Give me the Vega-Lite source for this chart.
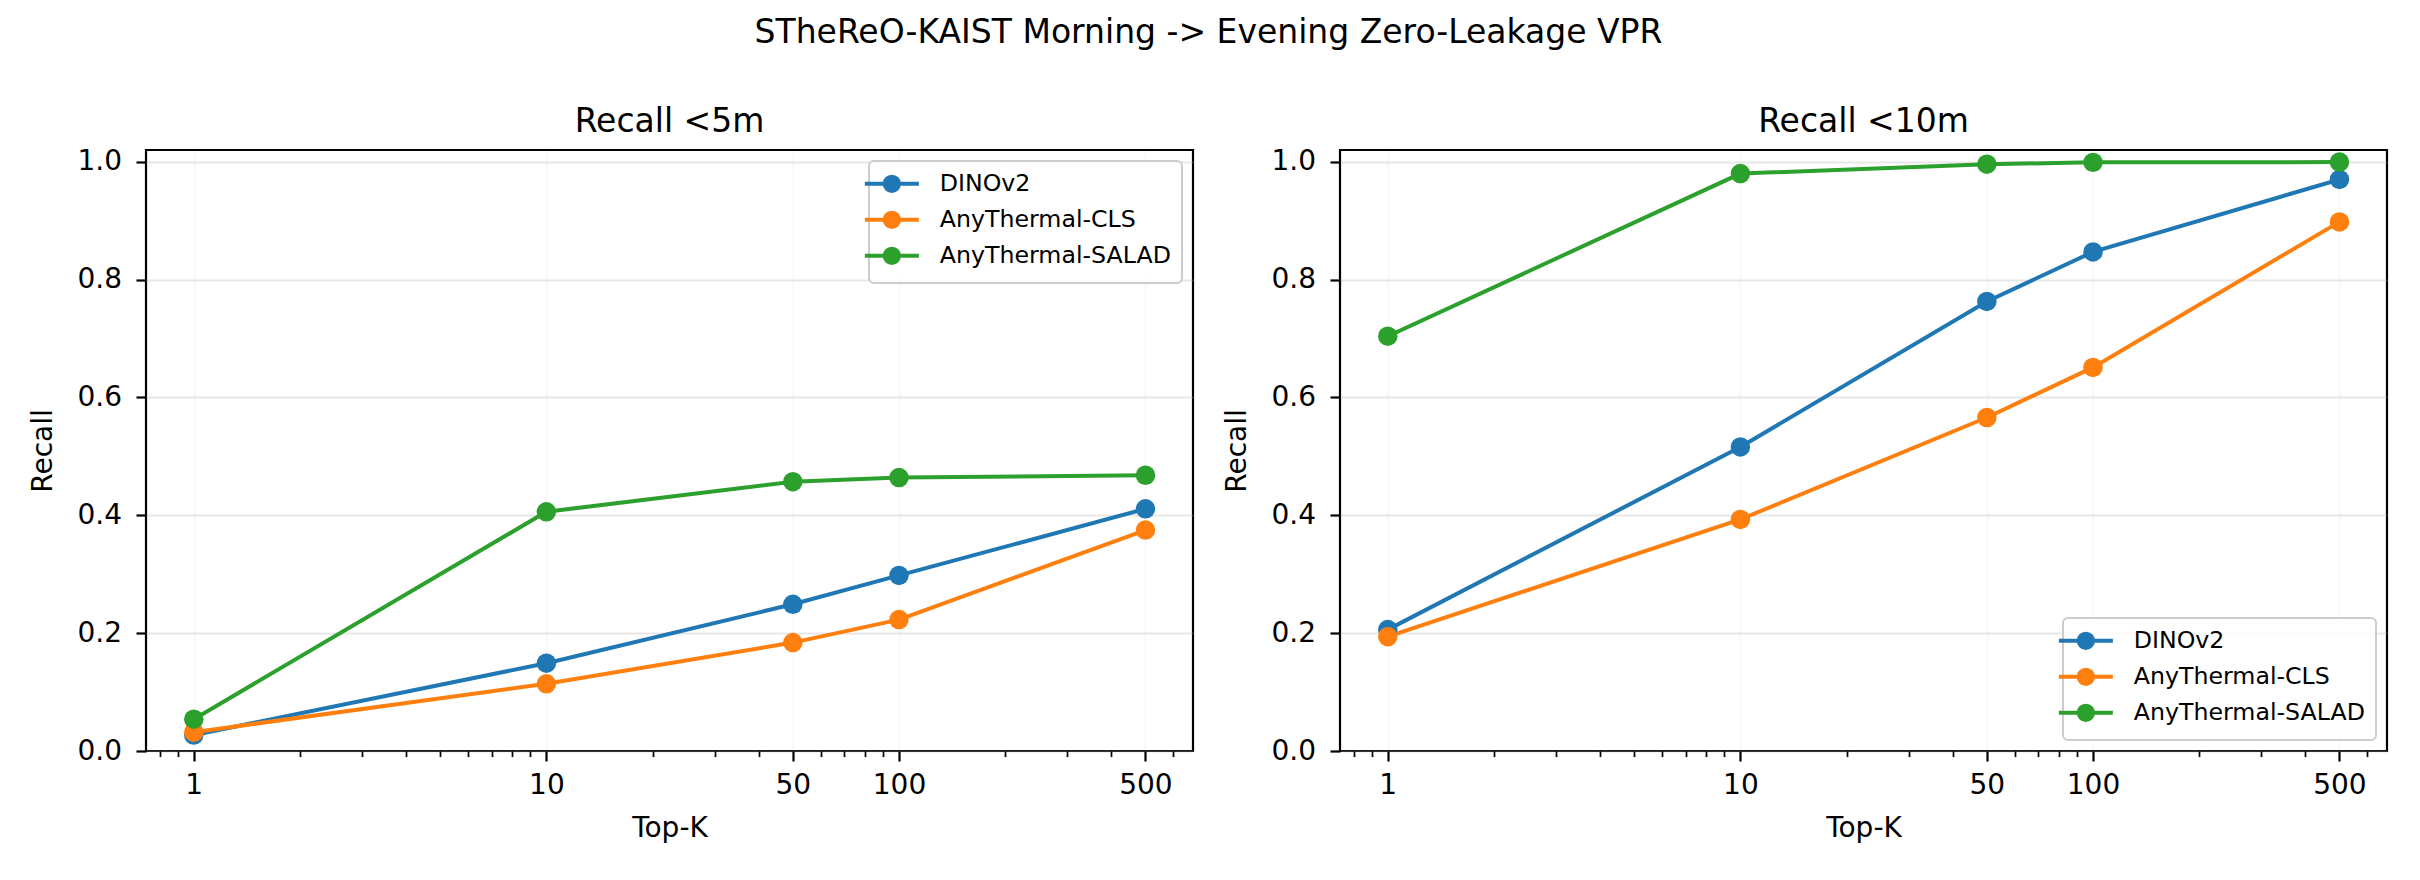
{
  "$schema": "https://vega.github.io/schema/vega-lite/v6.json",
  "padding": {"left": 28, "top": 16, "right": 0, "bottom": 0},
  "background": "white",
  "title": {"text": "STheReO-KAIST Morning -> Evening Zero-Leakage VPR", "fontSize": 33, "font": "DejaVu Sans", "fontWeight": "normal", "color": "black", "anchor": "middle", "offset": 55},
  "datasets": {
    "r5": [
      {"k": 1, "recall": 0.027, "method": "DINOv2"},
      {"k": 10, "recall": 0.149, "method": "DINOv2"},
      {"k": 50, "recall": 0.249, "method": "DINOv2"},
      {"k": 100, "recall": 0.298, "method": "DINOv2"},
      {"k": 500, "recall": 0.411, "method": "DINOv2"},
      {"k": 1, "recall": 0.032, "method": "AnyThermal-CLS"},
      {"k": 10, "recall": 0.114, "method": "AnyThermal-CLS"},
      {"k": 50, "recall": 0.184, "method": "AnyThermal-CLS"},
      {"k": 100, "recall": 0.223, "method": "AnyThermal-CLS"},
      {"k": 500, "recall": 0.375, "method": "AnyThermal-CLS"},
      {"k": 1, "recall": 0.054, "method": "AnyThermal-SALAD"},
      {"k": 10, "recall": 0.406, "method": "AnyThermal-SALAD"},
      {"k": 50, "recall": 0.457, "method": "AnyThermal-SALAD"},
      {"k": 100, "recall": 0.464, "method": "AnyThermal-SALAD"},
      {"k": 500, "recall": 0.468, "method": "AnyThermal-SALAD"}
    ],
    "r10": [
      {"k": 1, "recall": 0.206, "method": "DINOv2"},
      {"k": 10, "recall": 0.516, "method": "DINOv2"},
      {"k": 50, "recall": 0.763, "method": "DINOv2"},
      {"k": 100, "recall": 0.847, "method": "DINOv2"},
      {"k": 500, "recall": 0.970, "method": "DINOv2"},
      {"k": 1, "recall": 0.194, "method": "AnyThermal-CLS"},
      {"k": 10, "recall": 0.393, "method": "AnyThermal-CLS"},
      {"k": 50, "recall": 0.566, "method": "AnyThermal-CLS"},
      {"k": 100, "recall": 0.651, "method": "AnyThermal-CLS"},
      {"k": 500, "recall": 0.898, "method": "AnyThermal-CLS"},
      {"k": 1, "recall": 0.704, "method": "AnyThermal-SALAD"},
      {"k": 10, "recall": 0.980, "method": "AnyThermal-SALAD"},
      {"k": 50, "recall": 0.996, "method": "AnyThermal-SALAD"},
      {"k": 100, "recall": 0.999, "method": "AnyThermal-SALAD"},
      {"k": 500, "recall": 0.9995, "method": "AnyThermal-SALAD"}
    ]
  },
  "spacing": 27,
  "resolve": {"legend": {"color": "independent"}},
  "hconcat": [
    {
      "width": 1047, "height": 601,
      "title": "Recall <5m",
      "data": {"name": "r5"},
      "encoding": {
        "x": {"field": "k", "type": "quantitative", "title": "Top-K",
          "scale": {"type": "log", "domain": [0.732, 682], "nice": false, "zero": false},
          "axis": {"values": [0.8, 0.9, 1, 2, 3, 4, 5, 6, 7, 8, 9, 10, 20, 30, 40, 50, 60, 70, 80, 90, 100, 200, 300, 400, 500, 600],
            "labelExpr": "indexof([1,10,50,100,500], datum.value) >= 0 ? format(datum.value, 'd') : ''",
            "tickSize": {"condition": {"test": "indexof([1,10,50,100,500], datum.value) >= 0", "value": 10}, "value": 5.6},
            "tickWidth": {"condition": {"test": "indexof([1,10,50,100,500], datum.value) >= 0", "value": 2.2}, "value": 1.7},
            "gridOpacity": {"condition": {"test": "indexof([1,10,50,100,500], datum.value) >= 0", "value": 0.3}, "value": 0}}},
        "y": {"field": "recall", "type": "quantitative", "title": "Recall",
          "scale": {"domain": [0, 1.02], "nice": false},
          "axis": {"values": [0, 0.2, 0.4, 0.6, 0.8, 1.0], "format": ".1f"}},
        "color": {"field": "method", "type": "nominal",
          "scale": {"domain": ["DINOv2", "AnyThermal-CLS", "AnyThermal-SALAD"], "range": ["#1f77b4", "#ff7f0e", "#2ca02c"]},
          "legend": {"orient": "top-right", "offset": 11,
            "encode": {"symbols": {"update": {"stroke": {"scale": "color", "field": "value"}, "fill": {"scale": "color", "field": "value"}, "opacity": {"value": 1}, "strokeWidth": {"value": 4}}}}}}
      },
      "layer": [
        {"mark": {"type": "line", "strokeWidth": 4}},
        {"mark": {"type": "point", "filled": true, "size": 380, "opacity": 1, "strokeWidth": 0}}
      ]
    },
    {
      "width": 1047, "height": 601,
      "title": "Recall <10m",
      "data": {"name": "r10"},
      "encoding": {
        "x": {"field": "k", "type": "quantitative", "title": "Top-K",
          "scale": {"type": "log", "domain": [0.732, 682], "nice": false, "zero": false},
          "axis": {"values": [0.8, 0.9, 1, 2, 3, 4, 5, 6, 7, 8, 9, 10, 20, 30, 40, 50, 60, 70, 80, 90, 100, 200, 300, 400, 500, 600],
            "labelExpr": "indexof([1,10,50,100,500], datum.value) >= 0 ? format(datum.value, 'd') : ''",
            "tickSize": {"condition": {"test": "indexof([1,10,50,100,500], datum.value) >= 0", "value": 10}, "value": 5.6},
            "tickWidth": {"condition": {"test": "indexof([1,10,50,100,500], datum.value) >= 0", "value": 2.2}, "value": 1.7},
            "gridOpacity": {"condition": {"test": "indexof([1,10,50,100,500], datum.value) >= 0", "value": 0.3}, "value": 0}}},
        "y": {"field": "recall", "type": "quantitative", "title": "Recall",
          "scale": {"domain": [0, 1.02], "nice": false},
          "axis": {"values": [0, 0.2, 0.4, 0.6, 0.8, 1.0], "format": ".1f"}},
        "color": {"field": "method", "type": "nominal",
          "scale": {"domain": ["DINOv2", "AnyThermal-CLS", "AnyThermal-SALAD"], "range": ["#1f77b4", "#ff7f0e", "#2ca02c"]},
          "legend": {"orient": "bottom-right", "offset": 11,
            "encode": {"symbols": {"update": {"stroke": {"scale": "color", "field": "value"}, "fill": {"scale": "color", "field": "value"}, "opacity": {"value": 1}, "strokeWidth": {"value": 4}}}}}}
      },
      "layer": [
        {"mark": {"type": "line", "strokeWidth": 4}},
        {"mark": {"type": "point", "filled": true, "size": 380, "opacity": 1, "strokeWidth": 0}}
      ]
    }
  ],
  "config": {
    "font": "DejaVu Sans",
    "view": {"stroke": "black", "strokeWidth": 2.2},
    "title": {"fontSize": 33, "fontWeight": "normal", "color": "black", "font": "DejaVu Sans", "offset": 9},
    "axis": {
      "labelFontSize": 28, "titleFontSize": 28, "titleFontWeight": "normal", "labelColor": "black", "titleColor": "black",
      "labelFont": "DejaVu Sans", "titleFont": "DejaVu Sans",
      "tickColor": "black", "tickWidth": 2.2, "tickSize": 10, "domain": false,
      "gridColor": "#b0b0b0", "gridOpacity": 0.3, "gridWidth": 2,
      "labelOverlap": false, "labelFlush": false
    },
    "axisX": {"labelPadding": 10, "titlePadding": 15},
    "axisY": {"labelPadding": 14.5, "titlePadding": 19},
    "legend": {
      "title": null,
      "symbolType": "M-3,0L3,0M-0.8,0A0.8,0.8,0,1,1,0.8,0A0.8,0.8,0,1,1,-0.8,0Z",
      "symbolSize": 324,
      "symbolStrokeWidth": 4,
      "labelFontSize": 23.7, "labelFont": "DejaVu Sans", "labelColor": "black",
      "labelOffset": 36, "labelLimit": 0,
      "rowPadding": 4,
      "padding": 11,
      "fillColor": "rgba(255,255,255,0.8)", "strokeColor": "#cccccc", "cornerRadius": 5, "strokeWidth": 2
    }
  }
}
